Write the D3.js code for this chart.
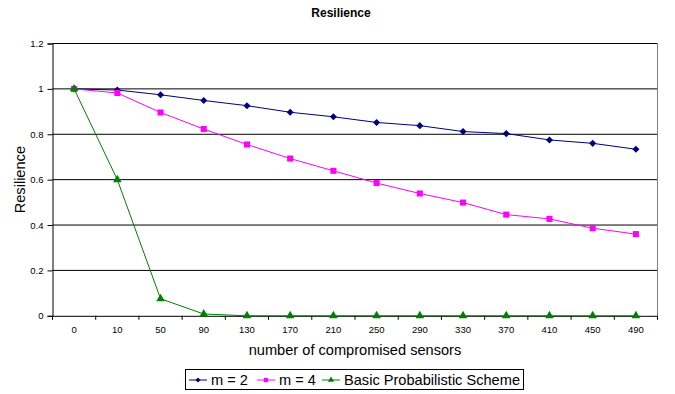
<!DOCTYPE html>
<html>
<head>
<meta charset="utf-8">
<script src="https://cdn.jsdelivr.net/npm/d3@7"></script>
<style>
  html, body { margin: 0; padding: 0; background: #fff; }
  svg { display: block; font-family: Arial, "Liberation Sans", sans-serif; }
</style>
</head>
<body>
<svg id="chart" width="675" height="394"></svg>
<script>
// Compromised sensor counts (category axis)
const sensors = ["0", "10", "50", "90", "130", "170", "210", "250", "290", "330", "370", "410", "450", "490"];

// Resilience for each scheme
const m2 = [1, 0.995, 0.974, 0.949, 0.926, 0.897, 0.877, 0.852, 0.838, 0.812, 0.803, 0.775, 0.760, 0.734];
const m4 = [1, 0.982, 0.896, 0.823, 0.755, 0.693, 0.639, 0.585, 0.539, 0.499, 0.446, 0.427, 0.386, 0.360];
const basic = [1, 0.6, 0.075, 0.008, 0, 0, 0, 0, 0, 0, 0, 0, 0, 0];

const yTicks = [0, 0.2, 0.4, 0.6, 0.8, 1, 1.2];

const series = [
  { name: "m = 2", values: m2, color: "#000080", shape: "diamond" },
  { name: "m = 4", values: m4, color: "#ff00ff", shape: "square" },
  { name: "Basic Probabilistic Scheme", values: basic, color: "#008000", shape: "triangle" }
];

const svg = d3.select("#chart");
const plot = { left: 52.5, right: 657.5, top: 43.5, bottom: 315.8 };

const x = d3.scaleBand().domain(sensors).range([plot.left, plot.right]).padding(0);
const y = d3.scaleLinear().domain([0, 1.2]).range([plot.bottom, plot.top]);

// Title
svg.append("text")
  .attr("x", 341).attr("y", 17)
  .attr("text-anchor", "middle")
  .attr("font-size", 12).attr("font-weight", "bold")
  .text("Resilience");

// Horizontal grid lines
svg.append("g")
  .selectAll("line")
  .data(yTicks.filter(d => d > 0))
  .join("line")
  .attr("x1", plot.left).attr("x2", plot.right)
  .attr("y1", d => y(d)).attr("y2", d => y(d))
  .attr("stroke", "#000").attr("stroke-width", 1);

// Right border of the plot area
svg.append("line")
  .attr("x1", plot.right).attr("x2", plot.right)
  .attr("y1", plot.top).attr("y2", plot.bottom)
  .attr("stroke", "#808080").attr("stroke-width", 1);

// Y axis
const yAxis = d3.axisLeft(y)
  .tickValues(yTicks)
  .tickSize(5)
  .tickPadding(4)
  .tickFormat(d => d3.format("~g")(d));
const gy = svg.append("g")
  .attr("transform", `translate(${plot.left},0)`)
  .call(yAxis);
gy.select(".domain").attr("stroke", "#000");
gy.selectAll(".tick line").attr("stroke", "#000");
gy.selectAll(".tick text").attr("font-size", 9.5).attr("fill", "#000")
  .attr("font-family", "Arial, 'Liberation Sans', sans-serif");

// X axis: labels at category centres, tick marks on category boundaries
const gx = svg.append("g")
  .attr("transform", `translate(0,${plot.bottom})`)
  .call(d3.axisBottom(x).tickSize(0).tickPadding(10));
gx.select(".domain").attr("stroke", "#000");
gx.selectAll(".tick text").attr("font-size", 9.5).attr("fill", "#000")
  .attr("font-family", "Arial, 'Liberation Sans', sans-serif");
gx.selectAll("line.boundary")
  .data(d3.range(sensors.length + 1))
  .join("line")
  .attr("class", "boundary")
  .attr("x1", i => plot.left + i * x.bandwidth())
  .attr("x2", i => plot.left + i * x.bandwidth())
  .attr("y1", 0).attr("y2", 4)
  .attr("stroke", "#000");

// Axis titles
svg.append("text")
  .attr("x", (plot.left + plot.right) / 2).attr("y", 355)
  .attr("text-anchor", "middle")
  .attr("font-size", 14.6)
  .text("number of compromised sensors");

svg.append("text")
  .attr("transform", `translate(25,${(plot.top + plot.bottom) / 2}) rotate(-90)`)
  .attr("text-anchor", "middle")
  .attr("font-size", 14.6)
  .text("Resilience");

// Marker drawing
function marker(sel, shape, color, size) {
  if (shape === "diamond") {
    sel.append("path")
      .attr("d", d3.symbol(d3.symbolDiamond2, size * 1.0)())
      .attr("fill", color);
  } else if (shape === "square") {
    sel.append("path")
      .attr("d", d3.symbol(d3.symbolSquare, size * 1.15)())
      .attr("fill", color);
  } else {
    sel.append("path")
      .attr("d", d3.symbol(d3.symbolTriangle, size)())
      .attr("fill", color);
  }
}

const cx = i => x(sensors[i]) + x.bandwidth() / 2;
const line = d3.line().x((d, i) => cx(i)).y(d => y(d));

// Series lines and markers
series.forEach(s => {
  const g = svg.append("g");
  g.append("path")
    .attr("d", line(s.values))
    .attr("fill", "none")
    .attr("stroke", s.color)
    .attr("stroke-width", 1);
  g.selectAll("g.pt")
    .data(s.values)
    .join("g")
    .attr("class", "pt")
    .attr("transform", (d, i) => `translate(${cx(i)},${y(d)})`)
    .each(function () { marker(d3.select(this), s.shape, s.color, 32); });
});

// Legend
const legend = svg.append("g");
legend.append("rect")
  .attr("x", 185.5).attr("y", 369.5)
  .attr("width", 338).attr("height", 20)
  .attr("fill", "#fff").attr("stroke", "#000");

const legendItems = [
  { s: series[0], x: 189 },
  { s: series[1], x: 257 },
  { s: series[2], x: 322 }
];
legendItems.forEach(({ s, x: lx }) => {
  const g = legend.append("g").attr("transform", `translate(${lx},380)`);
  g.append("line").attr("x1", 0).attr("x2", 18).attr("y1", 0).attr("y2", 0)
    .attr("stroke", s.color).attr("stroke-width", 1);
  const m = g.append("g").attr("transform", "translate(9,0)");
  marker(m, s.shape, s.color, 16);
  g.append("text")
    .attr("x", 22).attr("y", 5)
    .attr("font-size", 14.6)
    .text(s.name);
});
</script>
</body>
</html>
